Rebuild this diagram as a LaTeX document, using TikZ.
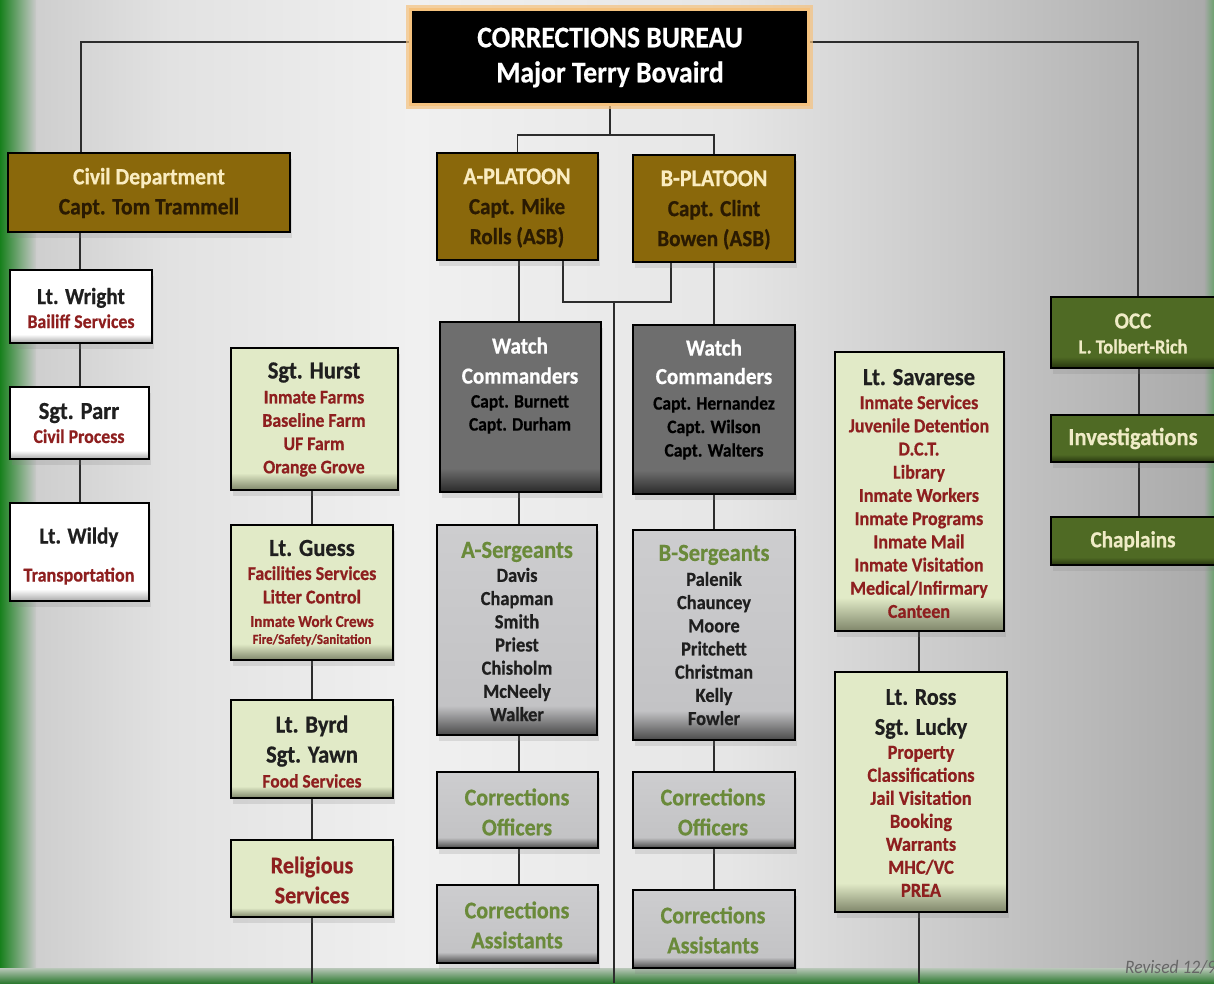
\documentclass[tikz,border=0pt]{standalone}
\usepackage{fontspec}
\setmainfont{Carlito}[FakeStretch=0.92, BoldFeatures={FakeBold=0.6}]
\usetikzlibrary{fit,shadows}
\definecolor{gold}{HTML}{8A680B}
\definecolor{creamtxt}{HTML}{FAECC0}
\definecolor{goldtxt}{HTML}{2A1A02}
\definecolor{wcbase}{HTML}{6E6E6E}
\definecolor{wcdark}{HTML}{2A2A2A}
\definecolor{wctxt}{HTML}{000000}
\definecolor{sgbase}{HTML}{C3C3C5}
\definecolor{sgtop}{HTML}{CDCDCF}
\definecolor{sgdark}{HTML}{4A4A4A}
\definecolor{lgbase}{HTML}{E1EAC7}
\definecolor{lgdark}{HTML}{7F866A}
\definecolor{dgbase}{HTML}{4F6A24}
\definecolor{dgdark}{HTML}{26340E}
\definecolor{whbase}{HTML}{FFFFFF}
\definecolor{whdark}{HTML}{A8A8A8}
\definecolor{redtxt}{HTML}{8E1F1F}
\definecolor{olivetxt}{HTML}{6A8A3A}
\definecolor{octxt}{HTML}{EFEBC6}
\definecolor{glow}{HTML}{F5C27E}
\definecolor{bga}{HTML}{C9C9C9}
\definecolor{bgb}{HTML}{E2E2E2}
\definecolor{bgc}{HTML}{F0F0F0}
\definecolor{bgd}{HTML}{E6E6E6}
\definecolor{bge}{HTML}{A9A9A9}
\definecolor{gstrip}{HTML}{17801C}
\definecolor{gband}{HTML}{2F7A32}
\definecolor{gbandtop}{HTML}{B9C7B9}
\definecolor{connc}{HTML}{2C2C2C}
\pgfdeclarehorizontalshading{bgsh}{100bp}{color(0bp)=(bga); color(25bp)=(bga); color(32bp)=(bgb); color(42bp)=(bgc); color(55bp)=(bgd); color(75bp)=(bge); color(100bp)=(bge)}
\pgfdeclareverticalshading{wcsh}{100bp}{color(0bp)=(wcdark); color(25bp)=(wcdark); color(32bp)=(wcbase); color(100bp)=(wcbase)}
\pgfdeclareverticalshading{sgsh}{100bp}{color(0bp)=(sgdark); color(25bp)=(sgdark); color(32bp)=(sgbase); color(75bp)=(sgtop); color(100bp)=(sgtop)}
\pgfdeclareverticalshading{lgsh}{100bp}{color(0bp)=(lgdark); color(25bp)=(lgdark); color(31bp)=(lgbase); color(100bp)=(lgbase)}
\pgfdeclareverticalshading{dgsh}{100bp}{color(0bp)=(dgdark); color(25bp)=(dgdark); color(33bp)=(dgbase); color(100bp)=(dgbase)}
\pgfdeclareverticalshading{whsh}{100bp}{color(0bp)=(whdark); color(25bp)=(whdark); color(31bp)=(whbase); color(100bp)=(whbase)}
\newcommand\fs[2]{\fontsize{#1}{#2}\selectfont}
\pgfdeclarelayer{bglayer}
\pgfdeclarelayer{linelayer}
\pgfsetlayers{bglayer,linelayer,main}
\tikzset{
  box/.style={draw=black, line width=2.6pt, inner sep=0pt,
    drop shadow={opacity=0.2, shadow xshift=2pt, shadow yshift=-6pt}},
  titlebox/.style={draw=black, line width=2pt, inner sep=0pt, fill=black,
    preaction={draw=glow, line width=14pt, opacity=0.7},
    preaction={draw=glow, line width=8pt}},
  goldbox/.style={box, fill=gold},
  whitebox/.style={box, shading=whsh},
  wcbox/.style={box, shading=wcsh},
  sgbox/.style={box, shading=sgsh},
  lgbox/.style={box, shading=lgsh},
  dgbox/.style={box, shading=dgsh},
  txt/.style={align=center, inner sep=0pt, text=black!88},
  conn/.style={draw=connc, line width=1.7pt}
}
\begin{document}
\begin{tikzpicture}[x=1pt,y=-1pt]
\useasboundingbox (0,0) rectangle (1214,983);
\begin{pgfonlayer}{bglayer}
\shade[shading=bgsh] (0,0) rectangle (1214,983);
\shade[left color=gstrip, right color=bga] (0,0) rectangle (36,983);
\shade[left color=bge, right color=gband!70] (1204,0) rectangle (1214,983);
\shade[top color=gbandtop, bottom color=gband] (0,968) rectangle (1214,983);
\end{pgfonlayer}

% title
\node[titlebox, fit={(413,12)(806,102)}] (cb) {};
\node[txt, text=white, font=\bfseries\fs{30}{35}] (cbt) at (610,57.5) {CORRECTIONS BUREAU\\Major Terry Bovaird};

% civil department column
\node[goldbox, fit={(8,153)(290,232)}] (civil) {};
\node[txt, font=\bfseries\fs{23.5}{30}] (civilt) at (149,193) {\textcolor{creamtxt}{Civil Department}\\\textcolor{goldtxt}{Capt. Tom Trammell}};
\node[whitebox, fit={(10,270)(152,343)}] (wright) {};
\node[txt, font=\bfseries\fs{19.4}{24}] (wrightt) at (81,308) {{\fs{23}{24}Lt. Wright}\\\textcolor{redtxt}{Bailiff Services}};
\node[whitebox, fit={(10,387)(149,459)}] (parr) {};
\node[txt, font=\bfseries\fs{19.4}{24}] (parrt) at (79,423) {{\fs{24.5}{24}Sgt. Parr}\\\textcolor{redtxt}{Civil Process}};
\node[whitebox, fit={(10,503)(149,601)}] (wildy) {};
\node[txt, font=\bfseries\fs{19.7}{38}] (wildyt) at (79,556) {{\fs{23}{38}Lt. Wildy}\\\textcolor{redtxt}{Transportation}};

% platoons
\node[goldbox, fit={(437,153)(598,260)}] (apl) {};
\node[txt, font=\bfseries\fs{23}{30}] (aplt) at (517,208) {\textcolor{creamtxt}{\fs{24}{30}A-PLATOON}\\\textcolor{goldtxt}{Capt. Mike}\\\textcolor{goldtxt}{Rolls (ASB)}};
\node[goldbox, fit={(633,155)(795,262)}] (bpl) {};
\node[txt, font=\bfseries\fs{23}{30}] (bplt) at (714,210) {\textcolor{creamtxt}{\fs{24}{30}B-PLATOON}\\\textcolor{goldtxt}{Capt. Clint}\\\textcolor{goldtxt}{Bowen (ASB)}};

% watch commanders
\node[wcbox, fit={(440,322)(601,492)}] (wa) {};
\node[txt, font=\bfseries\fs{19}{23}] (wat) at (520,385.5) {\textcolor{white}{\fs{23}{23}Watch}\\[7pt]\textcolor{white}{\fs{23}{23}Commanders}\\[1pt]\textcolor{wctxt}{Capt. Burnett}\\\textcolor{wctxt}{Capt. Durham}};
\node[wcbox, fit={(633,325)(795,494)}] (wb) {};
\node[txt, font=\bfseries\fs{19}{23.5}] (wbt) at (714,399.5) {\textcolor{white}{\fs{23}{23}Watch}\\[5pt]\textcolor{white}{\fs{23}{23}Commanders}\\[2pt]\textcolor{wctxt}{Capt. Hernandez}\\\textcolor{wctxt}{Capt. Wilson}\\\textcolor{wctxt}{Capt. Walters}};

% sergeants
\node[sgbox, fit={(437,525)(597,735)}] (sa) {};
\node[txt, font=\bfseries\fs{20}{23.2}] (sat) at (517,631.5) {\textcolor{olivetxt}{\fs{24.5}{23}A-Sergeants}\\[0.8pt]Davis\\Chapman\\Smith\\Priest\\Chisholm\\McNeely\\Walker};
\node[sgbox, fit={(633,530)(795,740)}] (sb) {};
\node[txt, font=\bfseries\fs{20}{23.2}] (sbt) at (714,635) {\textcolor{olivetxt}{\fs{24.5}{23}B-Sergeants}\\[1.8pt]Palenik\\Chauncey\\Moore\\Pritchett\\Christman\\Kelly\\Fowler};

% corrections officers / assistants
\node[sgbox, fit={(437,772)(598,848)}] (coa) {};
\node[txt, text=olivetxt, font=\bfseries\fs{24}{30}] (coat) at (517,812) {Corrections\\Officers};
\node[sgbox, fit={(633,772)(795,848)}] (cob) {};
\node[txt, text=olivetxt, font=\bfseries\fs{24}{30}] (cobt) at (713,812) {Corrections\\Officers};
\node[sgbox, fit={(437,885)(598,963)}] (caa) {};
\node[txt, text=olivetxt, font=\bfseries\fs{24}{30}] (caat) at (517,925) {Corrections\\Assistants};
\node[sgbox, fit={(633,890)(795,968)}] (cab) {};
\node[txt, text=olivetxt, font=\bfseries\fs{24}{30}] (cabt) at (713,930) {Corrections\\Assistants};

% left-center column
\node[lgbox, fit={(231,348)(398,490)}] (hurst) {};
\node[txt, font=\bfseries\fs{19.3}{23.3}] (hurstt) at (314,419.5) {{\fs{24.5}{23}Sgt. Hurst}\\[1.7pt]\textcolor{redtxt}{Inmate Farms}\\\textcolor{redtxt}{Baseline Farm}\\\textcolor{redtxt}{UF Farm}\\\textcolor{redtxt}{Orange Grove}};
\node[lgbox, fit={(231,525)(393,660)}] (guess) {};
\node[txt, font=\bfseries\fs{19.5}{23.5}] (guesst) at (312,593) {{\fs{24.5}{23}Lt. Guess}\\[0.5pt]\textcolor{redtxt}{Facilities Services}\\\textcolor{redtxt}{Litter Control}\\\textcolor{redtxt}{\fs{16.5}{23}Inmate Work Crews}\\[-6.5pt]\textcolor{redtxt}{\fs{14}{17}Fire/Safety/Sanitation}};
\node[lgbox, fit={(231,700)(393,798)}] (byrd) {};
\node[txt, font=\bfseries\fs{24.5}{30}] (byrdt) at (312,751.5) {Lt. Byrd\\Sgt. Yawn\\[-5pt]\textcolor{redtxt}{\fs{19}{25}Food Services}};
\node[lgbox, fit={(231,840)(393,917)}] (relig) {};
\node[txt, text=redtxt, font=\bfseries\fs{24}{30}] (religt) at (312,880) {Religious\\Services};

% right-center column
\node[lgbox, fit={(835,352)(1004,631)}] (sav) {};
\node[txt, font=\bfseries\fs{19.7}{23.2}] (savt) at (919,493.5) {{\fs{24.5}{23}Lt. Savarese}\\[0.8pt]\textcolor{redtxt}{Inmate Services}\\\textcolor{redtxt}{Juvenile Detention}\\\textcolor{redtxt}{D.C.T.}\\\textcolor{redtxt}{Library}\\\textcolor{redtxt}{Inmate Workers}\\\textcolor{redtxt}{Inmate Programs}\\\textcolor{redtxt}{Inmate Mail}\\\textcolor{redtxt}{Inmate Visitation}\\\textcolor{redtxt}{Medical/Infirmary}\\\textcolor{redtxt}{Canteen}};
\node[lgbox, fit={(835,672)(1007,912)}] (ross) {};
\node[txt, font=\bfseries\fs{20}{23}] (rosst) at (921,793) {{\fs{24}{23}Lt. Ross}\\[7pt]{\fs{24}{23}Sgt. Lucky}\\[1pt]\textcolor{redtxt}{Property}\\\textcolor{redtxt}{Classifications}\\\textcolor{redtxt}{Jail Visitation}\\\textcolor{redtxt}{Booking}\\\textcolor{redtxt}{Warrants}\\\textcolor{redtxt}{MHC/VC}\\\textcolor{redtxt}{PREA}};

% right green column
\node[dgbox, fit={(1051,297)(1222,368)}] (occ) {};
\node[txt, text=octxt, font=\bfseries\fs{20}{25}] (occt) at (1133,333.5) {{\fs{23}{25}OCC}\\L. Tolbert-Rich};
\node[dgbox, fit={(1051,415)(1222,462)}] (inv) {};
\node[txt, text=octxt, font=\bfseries\fs{24.5}{25}] (invt) at (1133,438.5) {Investigations};
\node[dgbox, fit={(1051,517)(1222,565)}] (chap) {};
\node[txt, text=octxt, font=\bfseries\fs{23}{25}] (chapt) at (1133,541) {Chaplains};

\node[anchor=west, inner sep=0pt, text=black!60, font=\itshape\fs{19}{20}] (rev) at (1125,967) {Revised 12/9};

% connectors
\coordinate (jl) at (81,42);
\coordinate (jr) at (1138,42);
\coordinate (jt) at (610,135);
\coordinate (am) at (563,302);
\coordinate (bm) at (671,302);
\coordinate (mm) at (614,302);
\coordinate (bot) at (0,983);
\coordinate (cA) at (519,0);
\coordinate (cB) at (714,0);
\coordinate (cL) at (312,0);
\coordinate (cC) at (80,0);
\coordinate (cR) at (919,0);
\coordinate (cG) at (1139,0);
\begin{pgfonlayer}{linelayer}
\draw[conn] (cb.west |- jl) -| (civil.north -| jl);
\draw[conn] (cb.east |- jr) -| (occ.north -| jr);
\draw[conn] (cb.south -| jt) -- (jt);
\draw[conn] (apl.north) |- (jt) -| (bpl.north);
\draw[conn] (civil.south -| cC) -- (wright.north -| cC);
\draw[conn] (wright.south -| cC) -- (parr.north -| cC);
\draw[conn] (parr.south -| cC) -- (wildy.north -| cC);
\draw[conn] (apl.south -| cA) -- (wa.north -| cA);
\draw[conn] (wa.south -| cA) -- (sa.north -| cA);
\draw[conn] (sa.south -| cA) -- (coa.north -| cA);
\draw[conn] (coa.south -| cA) -- (caa.north -| cA);
\draw[conn] (bpl.south -| cB) -- (wb.north -| cB);
\draw[conn] (wb.south -| cB) -- (sb.north -| cB);
\draw[conn] (sb.south -| cB) -- (cob.north -| cB);
\draw[conn] (cob.south -| cB) -- (cab.north -| cB);
\draw[conn] (apl.south -| am) -- (am) -- (bm) -- (bpl.south -| bm);
\draw[conn] (mm) -- (mm |- bot);
\draw[conn] (hurst.south -| cL) -- (guess.north -| cL);
\draw[conn] (guess.south -| cL) -- (byrd.north -| cL);
\draw[conn] (byrd.south -| cL) -- (relig.north -| cL);
\draw[conn] (relig.south -| cL) -- (cL |- bot);
\draw[conn] (sav.south -| cR) -- (ross.north -| cR);
\draw[conn] (ross.south -| cR) -- (cR |- bot);
\draw[conn] (occ.south -| cG) -- (inv.north -| cG);
\draw[conn] (inv.south -| cG) -- (chap.north -| cG);
\end{pgfonlayer}
\end{tikzpicture}
\end{document}
